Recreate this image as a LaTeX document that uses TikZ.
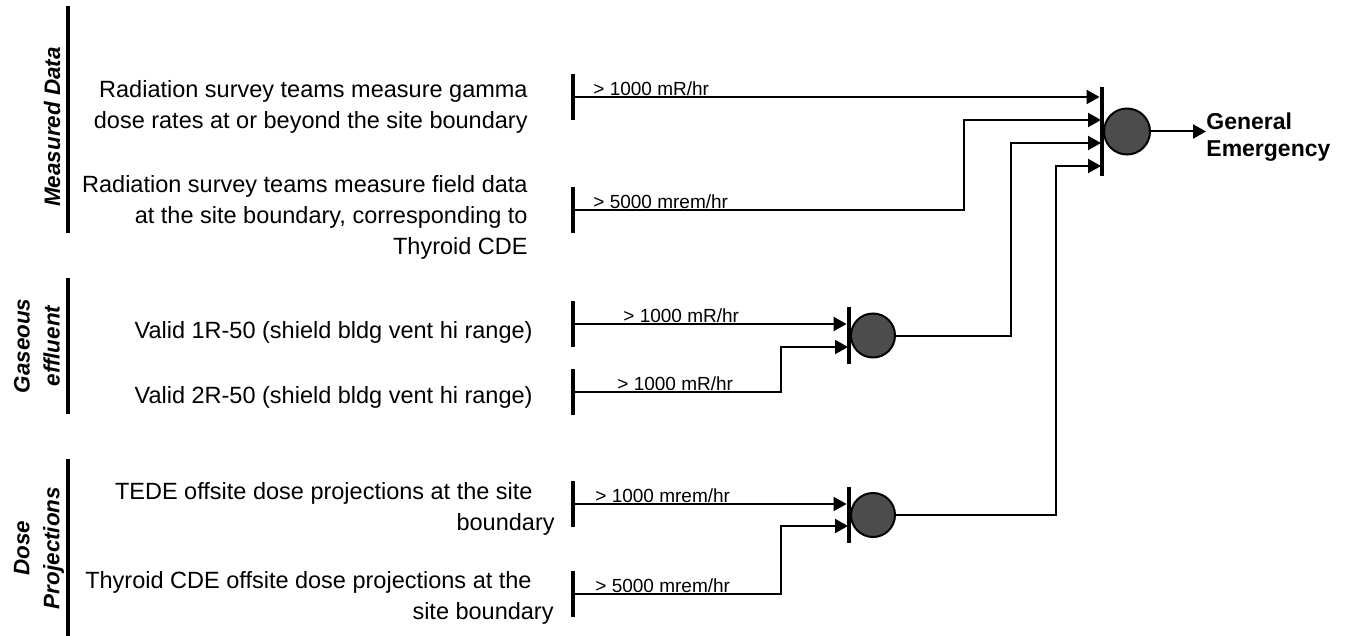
\documentclass[tikz,border=0pt]{standalone}
\usepackage{fontspec}
\setmainfont{Liberation Sans}
\usetikzlibrary{arrows.meta}
\begin{document}
\begin{tikzpicture}[x=0.5pt,y=-0.5pt,
  vbar/.style={fill=black, draw=none, inner sep=0pt, minimum width=2pt},
  inbar/.style={vbar, minimum height=23pt},
  gate/.style={circle, draw=black, line width=1pt, fill=black!70, inner sep=0pt, minimum size=22pt},
  conn/.style={line width=1pt},
  arr/.style={conn, -{Triangle[length=6.5pt,width=7pt]}},
  txt/.style={font=\fontsize{11.75}{15.5}\selectfont, align=right, inner sep=0pt, anchor=east},
  lbl/.style={font=\fontsize{9.5}{11}\selectfont, inner sep=0pt, anchor=base west},
  grp/.style={font=\bfseries\itshape\fontsize{11.2}{15}\selectfont, align=center, rotate=90, inner sep=0pt}]
\fill[white] (0,0) rectangle (1347,636);
\useasboundingbox (0,0) rectangle (1347,636);

% group bars and titles
\node[vbar, minimum height=113.5pt] (b1) at (68,119.5) {};
\node[vbar, minimum height=68pt] (b2) at (68,346) {};
\node[vbar, minimum height=88.5pt] (b3) at (68,547.5) {};
\node[grp] (g1) at (52,127) {Measured Data};
\node[grp] (g2) at (37,346) {Gaseous\\effluent};
\node[grp] (g3) at (39,548) {Dose\\Projections};

% condition texts
\node[txt] (t1) at (528,106.5) {Radiation survey teams measure gamma\\dose rates at or beyond the site boundary};
\node[txt] (t2) at (528,217) {Radiation survey teams measure field data\\at the site boundary, corresponding to\\Thyroid CDE};
\node[txt] (t3) at (533,332) {Valid 1R-50 (shield bldg vent hi range)};
\node[txt] (t4) at (533,397) {Valid 2R-50 (shield bldg vent hi range)};
\node[txt] (t5) at (555,509) {TEDE offsite dose projections at the site\hspace*{11pt}\\boundary};
\node[txt] (t6) at (554,598) {Thyroid CDE offsite dose projections at the\hspace*{11pt}\\site boundary};

% input bars
\node[inbar] (i1) at (573,97) {};
\node[inbar] (i2) at (573,210) {};
\node[inbar] (i3) at (573,324) {};
\node[inbar] (i4) at (573,392) {};
\node[inbar] (i5) at (573,504) {};
\node[inbar] (i6) at (573,594) {};

% threshold labels
\node[lbl] (l1) at (593,96) {> 1000 mR/hr};
\node[lbl] (l2) at (593,208) {> 5000 mrem/hr};
\node[lbl] (l3) at (623,322) {> 1000 mR/hr};
\node[lbl] (l4) at (617,390) {> 1000 mR/hr};
\node[lbl] (l5) at (595,502) {> 1000 mrem/hr};
\node[lbl] (l6) at (595,592) {> 5000 mrem/hr};

% gates
\node[vbar, minimum height=28.5pt] (gb2) at (849,335.5) {};
\node[gate] (c2) at (873,335.5) {};
\node[vbar, minimum height=28pt] (gb3) at (849,515) {};
\node[gate] (c3) at (873,515) {};
\node[vbar, minimum height=44.5pt] (gb1) at (1102,131.5) {};
\node[gate, minimum size=23pt] (c1) at (1127,131.5) {};

% bend points
\coordinate (k2) at (964,210);
\coordinate (k4) at (781,392);
\coordinate (k6) at (781,594);
\coordinate (kg) at (1011,335.5);
\coordinate (kd) at (1056,515);
\coordinate (m2) at (1101,120);
\coordinate (m3) at (1101,143);
\coordinate (m4) at (1101,166);
\coordinate (a4) at (848,347);
\coordinate (a6) at (848,526);

% connectors into the gaseous gate
\draw[arr] (i3.center) -- (i3.center -| gb2.west);
\draw[arr] (i4.center) -- (k4) |- (a4);
% connectors into the dose gate
\draw[arr] (i5.center) -- (i5.center -| gb3.west);
\draw[arr] (i6.center) -- (k6) |- (a6);
% connectors into the main gate
\draw[arr] (i1.center) -- (i1.center -| gb1.west);
\draw[arr] (i2.center) -- (k2) |- (m2);
\draw[arr] (c2.east) -- (kg) |- (m3);
\draw[arr] (c3.east) -- (kd) |- (m4);

% result
\node[font=\bfseries\fontsize{11.5}{13.5}\selectfont, align=left, anchor=west, inner sep=0pt] (ge) at (1206,137) {General\\Emergency};
\draw[arr] (c1.east) -- (c1.east -| ge.west);
\end{tikzpicture}
\end{document}
